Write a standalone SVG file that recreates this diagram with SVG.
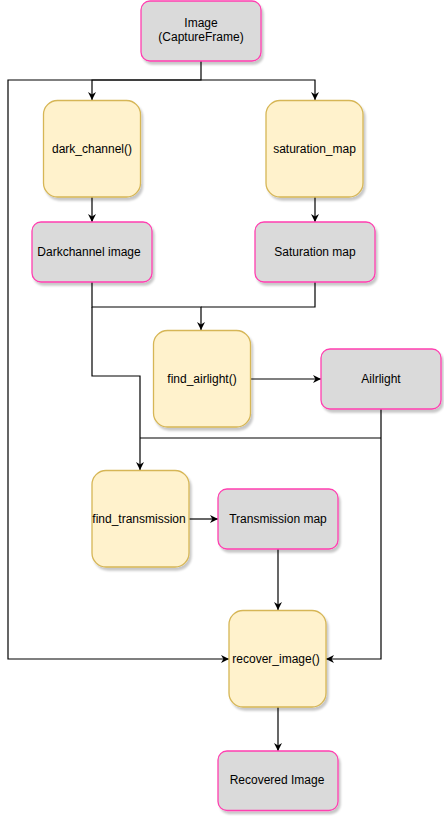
<svg xmlns="http://www.w3.org/2000/svg" width="444" height="816" viewBox="0 0 444 816">
<defs>
<filter id="sh" x="-10%" y="-10%" width="130%" height="130%">
<feDropShadow dx="2" dy="3" stdDeviation="1" flood-color="#000" flood-opacity="0.22"/>
</filter>
<marker id="ar" viewBox="0 0 10 10" refX="10" refY="5" markerWidth="8" markerHeight="8" markerUnits="userSpaceOnUse" orient="auto">
<path d="M0,0 L10,5 L0,10 L3,5 z" fill="#000"/>
</marker>
<style>
.data{fill:#dadada;stroke:#ff3fb0;stroke-width:1.3;filter:url(#sh)}
.proc{fill:#fff2cc;stroke:#d6b656;stroke-width:1.3;filter:url(#sh)}
.t{font-family:"Liberation Sans",Arial,sans-serif;font-size:12px;fill:#000;text-anchor:middle;dominant-baseline:central}
.c{fill:none;stroke:#000;stroke-width:1.2}
</style>
</defs>
<rect width="444" height="816" fill="#fff"/>
<g id="connectors">
<path class="c" d="M201,61 V80 H92 V100" marker-end="url(#ar)"/>
<path class="c" d="M201,80 H315 V100" marker-end="url(#ar)"/>
<path class="c" d="M201,80 H8 V659 H229" marker-end="url(#ar)"/>
<path class="c" d="M92,197 V222" marker-end="url(#ar)"/>
<path class="c" d="M315,197 V222" marker-end="url(#ar)"/>
<path class="c" d="M92,282 V307 H201 V330" marker-end="url(#ar)"/>
<path class="c" d="M315,282 V307 H201"/>
<path class="c" d="M92,307 V376 H140 V470" marker-end="url(#ar)"/>
<path class="c" d="M250,379 H321" marker-end="url(#ar)"/>
<path class="c" d="M381,409 V659 H326" marker-end="url(#ar)"/>
<path class="c" d="M381,438 H140"/>
<path class="c" d="M189,519 H218" marker-end="url(#ar)"/>
<path class="c" d="M278,549 V610" marker-end="url(#ar)"/>
<path class="c" d="M278,707 V751" marker-end="url(#ar)"/>
</g>
<g id="image">
<rect class="data" x="141" y="1" width="120" height="60" rx="9"/>
<text class="t" x="201" y="23">Image</text>
<text class="t" x="201" y="37">(CaptureFrame)</text>
</g>
<g id="dark_channel">
<rect class="proc" x="43.5" y="100.5" width="97" height="96.5" rx="14"/>
<text class="t" x="92" y="149">dark_channel()</text>
</g>
<g id="saturation_map_proc">
<rect class="proc" x="266" y="100.5" width="97" height="96.5" rx="14"/>
<text class="t" x="314.5" y="149">saturation_map</text>
</g>
<g id="darkchannel_image">
<rect class="data" x="32" y="222" width="120" height="60" rx="9"/>
<text class="t" x="89" y="252">Darkchannel image</text>
</g>
<g id="saturation_map">
<rect class="data" x="255" y="222" width="120" height="60" rx="9"/>
<text class="t" x="315" y="252">Saturation map</text>
</g>
<g id="find_airlight">
<rect class="proc" x="153.5" y="330.5" width="97" height="96.5" rx="14"/>
<text class="t" x="202" y="379">find_airlight()</text>
</g>
<g id="airlight">
<rect class="data" x="321" y="349" width="120" height="60" rx="9"/>
<text class="t" x="381" y="379">Ailrlight</text>
</g>
<g id="find_transmission">
<rect class="proc" x="92" y="470.5" width="97" height="96.5" rx="14"/>
<text class="t" x="139" y="519">find_transmission</text>
</g>
<g id="transmission_map">
<rect class="data" x="218" y="489" width="120" height="60" rx="9"/>
<text class="t" x="278" y="519">Transmission map</text>
</g>
<g id="recover_image">
<rect class="proc" x="229" y="610.5" width="97" height="96.5" rx="14"/>
<text class="t" x="276" y="659">recover_image()</text>
</g>
<g id="recovered_image">
<rect class="data" x="218" y="751" width="120" height="59.5" rx="9"/>
<text class="t" x="277" y="780">Recovered Image</text>
</g>
</svg>
